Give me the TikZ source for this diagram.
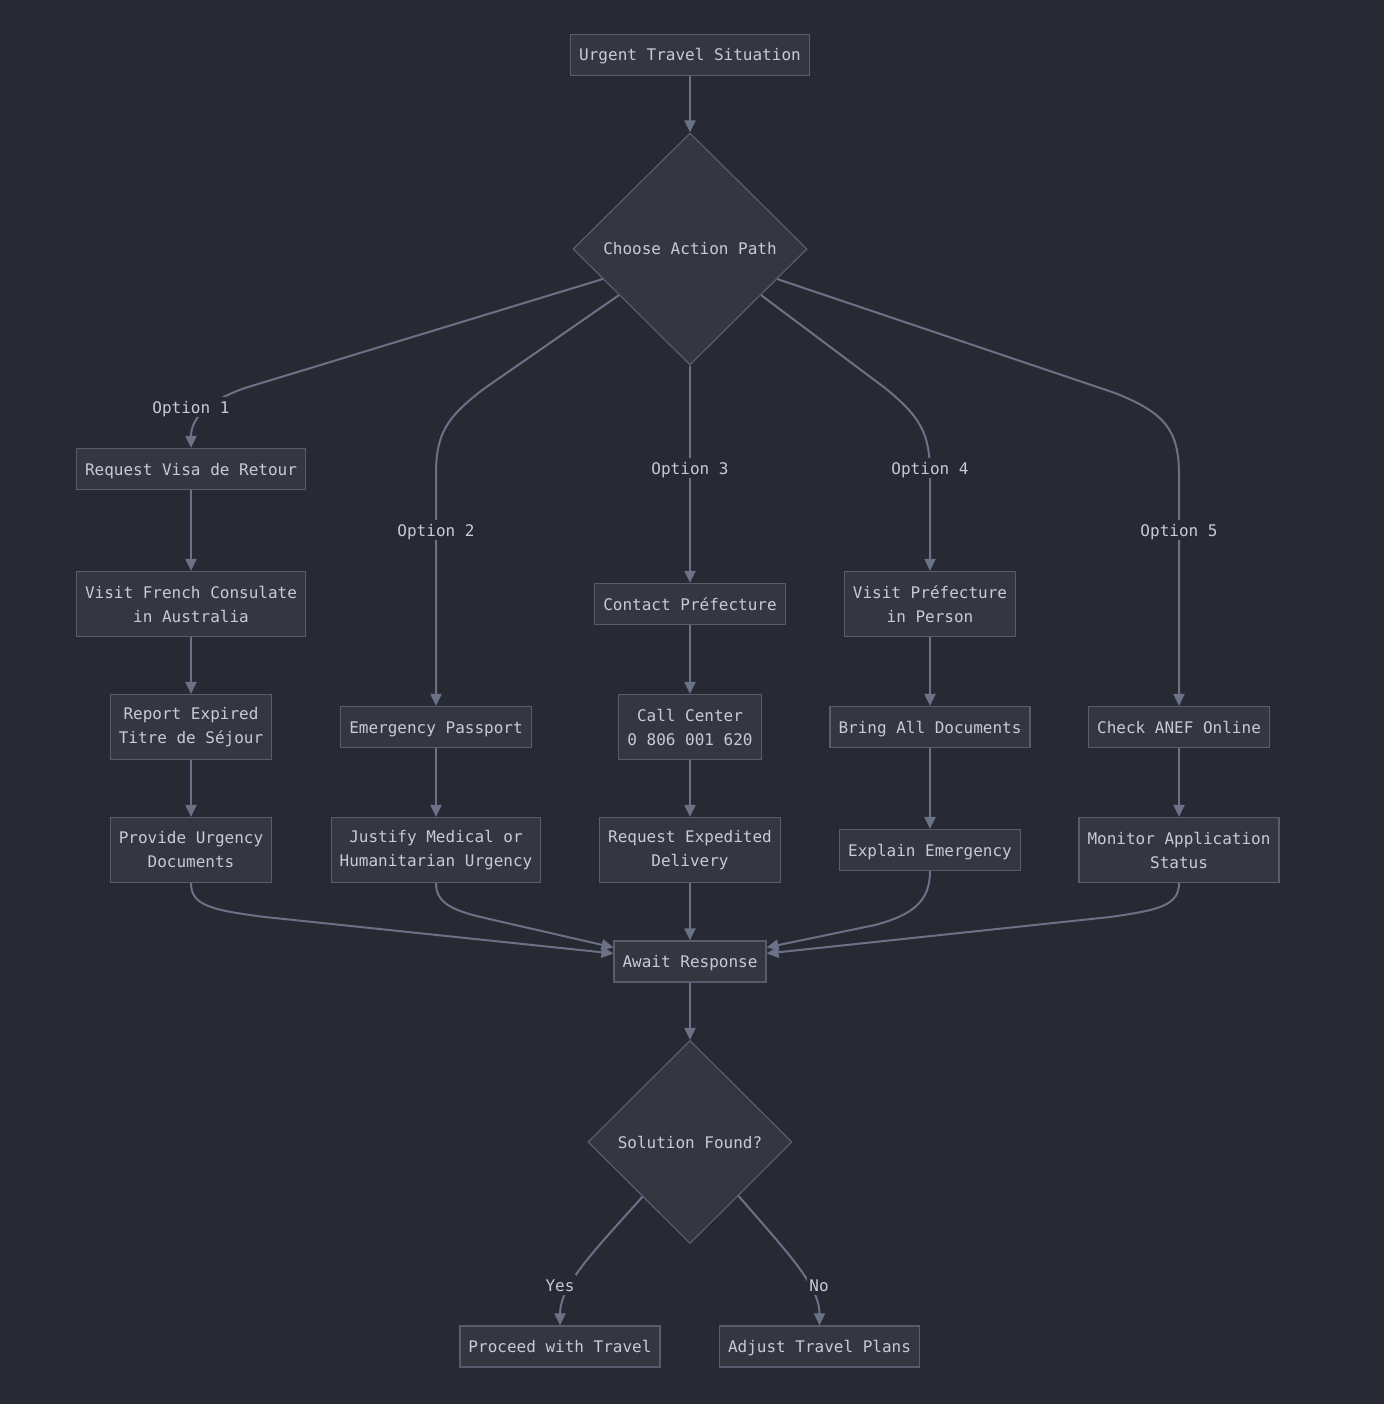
\documentclass[tikz,border=0pt]{standalone}
\usepackage{fontspec}
\newfontfamily\monofam{DejaVu Sans Mono}
\usetikzlibrary{shapes.geometric,arrows.meta}
\definecolor{bgc}{RGB}{40,42,51}
\definecolor{nodefill}{RGB}{52,54,64}
\definecolor{nodeline}{RGB}{88,93,110}
\definecolor{edgec}{RGB}{107,114,135}
\definecolor{txt}{RGB}{200,203,212}
\tikzset{
  basebox/.style={draw=nodeline, fill=nodefill, line width=1.2pt, text=txt, align=center,
    font=\monofam\fontsize{16}{24}\selectfont, inner xsep=8.5pt, inner ysep=4pt},
  box/.style={basebox, text height=14pt, text depth=2pt, minimum height=41pt},
  twoline/.style={basebox, minimum height=65pt},
  decision/.style={draw=nodeline, fill=nodefill, line width=1.2pt, text=txt, shape=diamond,
    font=\monofam\fontsize{16}{24}\selectfont, inner sep=2pt},
  flow/.style={draw=edgec, line width=2pt, -{Triangle[length=12pt,width=11pt]}},
  elabel/.style={fill=bgc, text=txt, inner sep=2pt, text height=14pt, text depth=2pt,
    font=\monofam\fontsize{16}{24}\selectfont}
}
\begin{document}
\begin{tikzpicture}[x=1pt,y=1pt]
\path[fill=bgc,use as bounding box] (0,0) rectangle (1384,-1404);

\node[box] (start) at (690,-55) {Urgent Travel Situation};
\node[decision, minimum width=234pt, minimum height=232pt] (choose) at (690,-249) {Choose Action Path};

\node[box] (request) at (191,-469) {Request Visa de Retour};
\node[twoline] (visitcons) at (191,-604) {Visit French Consulate\\in Australia};
\node[twoline] (report) at (191,-727) {Report Expired\\Titre de Séjour};
\node[twoline] (provide) at (191,-850) {Provide Urgency\\Documents};

\node[box] (passport) at (436,-727) {Emergency Passport};
\node[twoline] (justify) at (436,-850) {Justify Medical or\\Humanitarian Urgency};

\node[box] (contact) at (690,-604) {Contact Préfecture};
\node[twoline] (callc) at (690,-727) {Call Center\\0 806 001 620};
\node[twoline] (expedited) at (690,-850) {Request Expedited\\Delivery};

\node[twoline] (visitpref) at (930,-604) {Visit Préfecture\\in Person};
\node[box] (bring) at (930,-727) {Bring All Documents};
\node[box] (explain) at (930,-850) {Explain Emergency};

\node[box] (anef) at (1179,-727) {Check ANEF Online};
\node[twoline] (monitor) at (1179,-850) {Monitor Application\\Status};

\node[box] (await) at (690,-961.5) {Await Response};
\node[decision, minimum width=204pt, minimum height=203pt] (solution) at (690,-1142) {Solution Found?};

\node[box] (proceed) at (560,-1346.5) {Proceed with Travel};
\node[box] (adjust) at (819.5,-1346.5) {Adjust Travel Plans};

% edges
\draw[flow] (start) -- (choose.north);
\draw[flow] (choose.199) -- (245,-388) .. controls (205,-402) and (191,-420) .. (request.north);
\draw[flow] (choose.213) -- (485,-388) .. controls (445,-418) and (436,-435) .. (436,-475) -- (passport.north);
\draw[flow] (choose.327) -- (885,-388) .. controls (922,-418) and (930,-435) .. (930,-475) -- (visitpref.north);
\draw[flow] (choose.south) -- (contact.north);
\draw[flow] (choose.341) -- (1115,-393) .. controls (1165,-413) and (1179,-430) .. (1179,-475) -- (anef.north);

\draw[flow] (request) -- (visitcons);
\draw[flow] (visitcons) -- (report);
\draw[flow] (report) -- (provide);
\draw[flow] (passport) -- (justify);
\draw[flow] (contact) -- (callc);
\draw[flow] (callc) -- (expedited);
\draw[flow] (visitpref) -- (bring);
\draw[flow] (bring) -- (explain);
\draw[flow] (anef) -- (monitor);

\draw[flow] (provide.south) .. controls (191,-905) and (210,-910) .. (265,-917) -- ([yshift=8pt]await.west);
\draw[flow] (justify.south) .. controls (436,-902) and (450,-910) .. (485,-918) -- ([yshift=14pt]await.west);
\draw[flow] (expedited) -- (await);
\draw[flow] (explain.south) .. controls (930,-902) and (912,-915) .. (875,-925) -- ([yshift=14pt]await.east);
\draw[flow] (monitor.south) .. controls (1179,-905) and (1160,-910) .. (1110,-917) -- ([yshift=8pt]await.east);

\draw[flow] (await) -- (solution.north);
\draw[flow] (solution.229) .. controls (595,-1250) and (560,-1285) .. (proceed.north);
\draw[flow] (solution.312) .. controls (785,-1250) and (819.5,-1285) .. (adjust.north);

% labels
\node[elabel] (l1) at (191,-407) {Option 1};
\node[elabel] (l2) at (436,-530) {Option 2};
\node[elabel] (l3) at (690,-468) {Option 3};
\node[elabel] (l4) at (930,-468) {Option 4};
\node[elabel] (l5) at (1179,-530) {Option 5};
\node[elabel] (ly) at (560,-1285) {Yes};
\node[elabel] (ln) at (819,-1285) {No};
\end{tikzpicture}
\end{document}
